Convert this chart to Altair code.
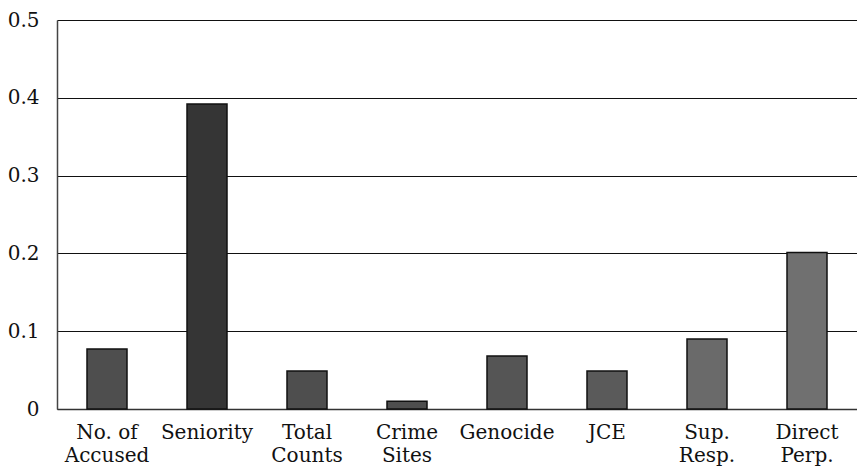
import altair as alt
import pandas as pd

categories = ["No. of\nAccused", "Seniority", "Total\nCounts", "Crime\nSites",
              "Genocide", "JCE", "Sup.\nResp.", "Direct\nPerp."]
values = [0.077, 0.392, 0.049, 0.010, 0.068, 0.049, 0.090, 0.201]

bar_colors = ["#4e4e4e", "#353535", "#4e4e4e", "#4e4e4e",
              "#555555", "#5a5a5a", "#6a6a6a", "#707070"]

df = pd.DataFrame({"cat": categories, "val": values})

FONT = "DejaVu Serif"

bars = alt.Chart(df).mark_bar(stroke="#111111", strokeWidth=1.5).encode(
    x=alt.X("cat:N", sort=categories, title=None,
            scale=alt.Scale(paddingInner=0.6, paddingOuter=0.3),
            axis=alt.Axis(labelAngle=0, labelExpr="split(datum.label, '\\n')",
                          labelFont=FONT, labelFontSize=20, labelColor="#111111",
                          labelPadding=13, labelLineHeight=23, ticks=False,
                          domainColor="#333333", domainWidth=1.5, grid=False)),
    y=alt.Y("val:Q", title=None,
            scale=alt.Scale(domain=[0, 0.5], nice=False),
            axis=alt.Axis(values=[0, 0.1, 0.2, 0.3, 0.4, 0.5],
                          labelExpr="datum.value == 0 ? '0' : format(datum.value, '.1f')",
                          labelFont=FONT, labelFontSize=20, labelColor="#111111",
                          labelPadding=18, ticks=False, domainColor="#444444",
                          domainWidth=1.5, grid=True, gridColor="#111111",
                          gridWidth=1.2, gridOpacity=1)),
    color=alt.Color("cat:N", scale=alt.Scale(domain=categories, range=bar_colors),
                    legend=None),
)

chart = bars.properties(
    width=800, height=389,
    autosize=alt.AutoSizeParams(type="none"),
    padding={"left": 49, "top": 12, "right": 0, "bottom": 62},
).configure_view(stroke=None).configure(background="white")

chart.save("out.html", embed_options={"renderer": "svg", "actions": False})
